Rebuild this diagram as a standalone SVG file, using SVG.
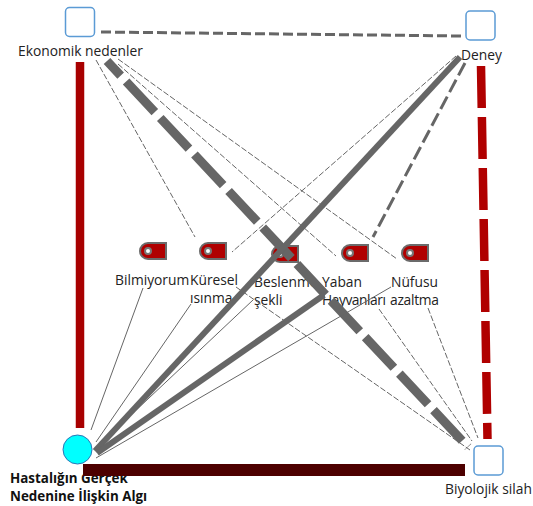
<svg xmlns="http://www.w3.org/2000/svg" width="533" height="506" viewBox="0 0 533 506">
<style>
text{font-family:"Open Sans","Noto Sans","Liberation Sans",sans-serif;font-size:13.800px;fill:#222}
.b{font-weight:700;fill:#111;font-size:13.400px}
.box{fill:#fff;stroke:#5b9bd5;stroke-width:1.500}
.tag{fill:#b00000;stroke:#6b6b6b;stroke-width:2}
.hole{fill:#fff;stroke:#777;stroke-width:2}
.g{stroke:#666;fill:none}
.thin{stroke:#666;stroke-width:1;fill:none}
.td{stroke:#666;stroke-width:1;fill:none;stroke-dasharray:6 2}
</style>
<defs><g id="t"><path class="tag" d="M8 0H26V16H8A8 8 0 0 1 8 0Z"/><circle class="hole" cx="8" cy="8" r="3"/></g></defs>
<g id="n-bilmiyorum"><use href="#t" x="140" y="243"/><text x="115" y="285">Bilmiyorum</text></g>
<g id="n-kuresel"><use href="#t" x="200" y="243"/><text x="190" y="285">Küresel</text><text x="190" y="303">ısınma</text></g>
<g id="n-beslenme"><use href="#t" x="272" y="246"/><text x="254" y="287">Beslenme</text><text x="254" y="305">şekli</text></g>
<g id="n-yaban"><use href="#t" x="342" y="245"/><text x="322" y="287">Yaban</text><text x="322" y="305" textLength="64">Hayvanları</text></g>
<g id="n-nufusu"><use href="#t" x="402" y="245"/><text x="391" y="287">Nüfusu</text><text x="390" y="305" textLength="49">azaltma</text></g>
<g id="n-ekonomik"><rect class="box" x="65.500" y="7.500" width="29" height="29" rx="4"/><text x="18" y="56">Ekonomik nedenler</text></g>
<g id="n-deney"><rect class="box" x="466" y="11" width="29" height="29" rx="4"/><text x="461" y="60">Deney</text></g>
<g id="n-biyolojik"><rect class="box" x="474" y="446" width="29" height="29" rx="4"/><text x="445" y="494">Biyolojik silah</text></g>
<g id="n-algi"><circle cx="77.500" cy="449.500" r="14.500" fill="#00ffff" stroke="#2e75b6" stroke-width="1"/><text class="b" x="10" y="483">Hastalığın Gerçek</text><text class="b" x="10" y="501">Nedenine İlişkin Algı</text></g>
<g id="connectors">
<path d="M80 62V428" stroke="#a80000" stroke-width="8.500" fill="none"/>
<path d="M83 470H465" stroke="#4d0000" stroke-width="12" fill="none"/>
<path d="M481 66L487.500 439" stroke="#b00000" stroke-width="8.500" fill="none" stroke-dasharray="42 9"/>
<path class="g" d="M101 32L462 36" stroke-width="3" stroke-dasharray="10 4"/>
<path class="g" d="M107 61L468 447" stroke-width="9" stroke-dasharray="42 8" stroke-dashoffset="22"/>
<path class="g" d="M465 63L373 237" stroke-width="3" stroke-dasharray="14 5"/>
<path class="g" d="M460 57L95 451" stroke-width="6"/>
<path class="g" d="M324 295L97 453" stroke-width="6"/>
<path class="td" d="M96 60L195 237"/>
<path class="td" d="M118 64L336 256"/>
<path class="td" d="M118 59L397 259"/>
<path class="td" d="M456 56L232 252"/>
<path class="td" d="M236 287L470 450"/>
<path class="td" d="M379 309L472 441"/>
<path class="td" d="M428 308L478 438"/>
<path class="thin" d="M143 288L91 430"/>
<path class="thin" d="M191 304L96 442"/>
<path class="thin" d="M253 300L97 447"/>
<path class="thin" d="M391 287L96 458"/>
</g>
</svg>
